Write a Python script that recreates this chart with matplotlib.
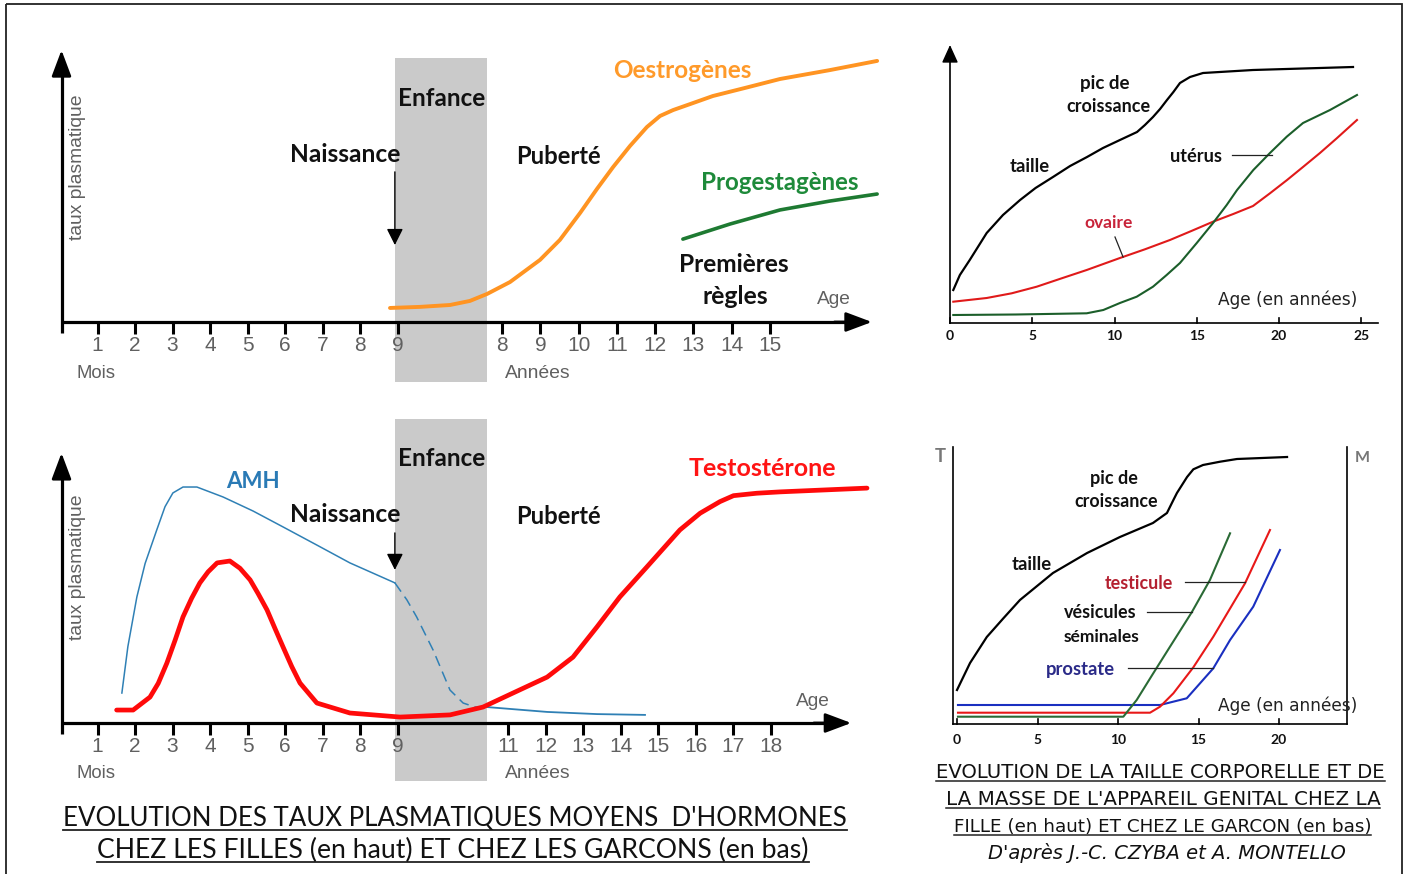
import matplotlib
matplotlib.use('Agg')
import matplotlib.pyplot as plt
from matplotlib import font_manager
from matplotlib.patches import Rectangle

# ---------------- DATA ----------------
# Hormone panels: x = position along the (non-linear) age axis, y = relative plasma level (0-100)
month_ticks = [1, 2, 3, 4, 5, 6, 7, 8, 9]
girl_year_ticks = [8, 9, 10, 11, 12, 13, 14, 15]
boy_year_ticks = [11, 12, 13, 14, 15, 16, 17, 18]

oestro_x = [8.80, 9.60, 10.40, 10.93, 11.39, 12.00, 12.80, 13.33, 13.87, 14.32, 14.75, 15.20,
            15.65, 16.00, 16.35, 16.80, 17.41, 18.27, 19.20, 20.53, 21.79]
oestro_y = [5.2, 5.6, 6.3, 7.8, 10.4, 14.8, 23.0, 30.4, 40.4, 49.3, 57.4, 65.2,
            72.2, 76.3, 78.5, 80.7, 83.7, 86.7, 90.0, 93.3, 96.7]
progest_x = [16.61, 17.87, 19.20, 20.53, 21.79]
progest_y = [30.7, 36.3, 41.5, 44.8, 47.4]

amh_x1 = [1.65, 1.81, 2.05, 2.27, 2.58, 2.80, 3.01, 3.28, 3.65, 4.35, 5.15, 5.95, 6.85, 7.73, 8.93]
amh_y1 = [11.1, 28.3, 46.7, 59.1, 71.5, 80.1, 85.2, 87.4, 87.4, 83.7, 78.5, 72.6, 65.9, 59.3, 51.9]
amh_x2 = [8.93, 9.25, 9.51, 9.95, 10.40, 10.75, 11.07, 11.39]
amh_y2 = [51.9, 45.6, 39.3, 27.0, 12.2, 7.4, 5.9, 5.9]
amh_x3 = [11.39, 12.99, 14.32, 15.60]
amh_y3 = [5.9, 4.1, 3.3, 3.0]

testo_x = [1.51, 1.95, 2.40, 2.62, 2.85, 3.07, 3.28, 3.51, 3.73, 3.95, 4.19, 4.53, 4.80, 5.07,
           5.28, 5.52, 5.73, 5.95, 6.18, 6.40, 6.85, 7.73, 9.07, 10.40, 11.28, 12.08, 12.99,
           13.68, 14.32, 14.93, 15.65, 16.53, 17.07, 17.60, 17.96, 18.58, 19.20, 21.52]
testo_y = [4.8, 4.8, 9.6, 14.7, 22.2, 30.7, 39.3, 46.2, 51.9, 56.0, 59.3, 60.0, 57.3, 53.0,
           48.0, 41.9, 35.1, 28.1, 20.9, 14.8, 7.4, 3.7, 2.2, 3.0, 5.9, 11.1, 17.0,
           24.4, 35.6, 46.7, 57.8, 71.5, 77.7, 82.0, 84.2, 85.1, 85.6, 87.0]

# Growth panels: x = age (years), y = relative size
f_ticks = [0, 5, 10, 15, 20, 25]
taille_f_age = [0.2, 0.6, 1.2, 2.23, 3.22, 4.26, 5.2, 6.26, 7.3, 8.33, 9.3, 10.33, 11.37, 11.85,
                12.34, 12.77, 13.19, 13.58, 13.98, 14.59, 15.38, 18.42, 24.5]
taille_f_h = [33, 48, 63, 90, 108, 123, 135, 146, 157, 166, 175, 183, 191, 198,
              206, 214, 223, 231, 240, 246, 250, 253, 256]
ovaire_age = [0.2, 2.23, 3.75, 5.27, 6.79, 8.31, 10.33, 11.85, 13.37, 14.7, 15.99, 17.22, 18.42,
              19.45, 20.49, 21.48, 22.49, 23.51, 24.74]
ovaire_h = [21.3, 25, 29.7, 36.3, 44.7, 53, 65, 73.7, 83, 92.2, 101.3, 109, 117,
            129.7, 143, 156.3, 170, 184.7, 203]
uterus_age = [0.2, 4.0, 8.31, 9.32, 10.33, 11.35, 12.34, 13.17, 13.98, 15.0, 15.99, 16.82, 17.45,
              18.44, 19.45, 20.47, 21.46, 23.1, 24.74]
uterus_h = [8, 8.5, 9.7, 13, 20, 26.3, 36.3, 48, 60, 80, 100, 118, 133,
            153, 170, 186.3, 200, 213, 228]

m_ticks = [0, 5, 10, 15, 20]
taille_m_age = [0, 0.81, 1.85, 2.88, 3.91, 5.96, 8.08, 10.12, 12.17, 13.04, 13.44, 13.66, 14.29,
                14.68, 15.28, 16.34, 17.39, 20.5]
taille_m_h = [34, 61, 87, 105.7, 124, 151, 171, 187, 201, 211, 224, 231, 247,
              254.7, 259, 262.3, 265, 267]
vesic_age = [0.06, 10.33, 11.16, 12.19, 13.23, 14.58, 15.71, 16.96]
vesic_h = [7.3, 7.3, 24, 50.7, 77.3, 111.7, 144, 190.7]
testic_age = [0.06, 11.99, 12.61, 13.44, 14.68, 15.92, 17.89, 19.44]
testic_h = [11.3, 11.3, 17.3, 30.7, 56.7, 87.3, 140.7, 194]
prost_age = [0.06, 12.61, 14.27, 15.92, 16.96, 18.4, 20.06]
prost_h = [19, 19, 25.7, 55.7, 84, 117.3, 174]

# ---------------- FIGURE ----------------
W, H = 1406, 874
fig = plt.figure(figsize=(W / 100, H / 100), dpi=100)
fig.patch.set_facecolor('white')
R = fig.canvas.get_renderer()

names = {f.name for f in font_manager.fontManager.ttflist}
NARROW = 'Liberation Sans Narrow' if 'Liberation Sans Narrow' in names else 'Liberation Sans'
COMIC = 'Lato' if 'Lato' in names else 'DejaVu Sans'
GRAY = '#606060'


def pix_panel(x0, y0, x1, y1, ox, sx, oy, sy):
    ax = fig.add_axes([x0 / W, 1 - y1 / H, (x1 - x0) / W, (y1 - y0) / H])
    ax.set_xlim((x0 - ox) / sx, (x1 - ox) / sx)
    ax.set_ylim((oy - y1) / sy, (oy - y0) / sy)
    ax.axis('off')
    return ax


def arrow(ax, p0, p1, lw, hl, hw, ms=20, color='k'):
    ax.annotate('', xy=p1, xytext=p0,
                arrowprops=dict(arrowstyle='-|>,head_length=%g,head_width=%g' % (hl, hw),
                                color=color, lw=lw, mutation_scale=ms, shrinkA=0, shrinkB=0))


def hormone_axes(ax, year_ticks, year_pos, ytop, xend):
    ax.plot([0.04, 0.04], [-4, ytop - 3], color='k', lw=2.3, solid_capstyle='butt')
    arrow(ax, (0.04, ytop - 8), (0.04, ytop), 2.0, 0.8, 0.3)
    ax.plot([0.04, xend - 0.3], [0, 0], color='k', lw=2.3, solid_capstyle='butt')
    arrow(ax, (xend - 1, 0), (xend, 0), 2.0, 0.8, 0.3)
    for m in month_ticks:
        ax.plot([m, m], [0, -4.4], color='k', lw=2.2, solid_capstyle='butt')
        ax.text(m, -8.6, str(m), ha='center', va='center', fontsize=15, color=GRAY, family=NARROW)
    for yv in year_ticks:
        p = year_pos(yv)
        ax.plot([p, p], [0, -4.4], color='k', lw=2.2, solid_capstyle='butt')
        ax.text(p, -8.6, str(yv), ha='center', va='center', fontsize=15, color=GRAY, family=NARROW)


# ---- top-left: girls hormones ----
ax1 = pix_panel(40, 30, 900, 395, 60, 37.5, 322, 2.7)
ax1.add_patch(Rectangle((8.93, -22.2), 2.46, 120.0, color='#cacaca', lw=0, zorder=0))
hormone_axes(ax1, girl_year_ticks, lambda y: 3.63 + 1.02 * y, 100.7, 21.65)
ax1.plot(oestro_x, oestro_y, color='#ff9422', lw=2.8, solid_capstyle='round', solid_joinstyle='round', zorder=3)
ax1.plot(progest_x, progest_y, color='#1e7a32', lw=2.6, solid_capstyle='round', zorder=3)
arrow(ax1, (8.93, 55.6), (8.93, 28.5), 1.0, 0.5, 0.25)

# ---- bottom-left: boys hormones ----
ax2 = pix_panel(40, 410, 900, 795, 60, 37.5, 723, 2.7)
ax2.add_patch(Rectangle((8.93, -21.5), 2.46, 134.0, color='#cacaca', lw=0, zorder=0))
hormone_axes(ax2, boy_year_ticks, lambda y: 0.95 + y, 100.0, 21.1)
ax2.plot(amh_x1, amh_y1, color='#2f80b5', lw=1.1, zorder=3)
ax2.plot(amh_x2, amh_y2, color='#2f80b5', lw=1.1, ls=(0, (7, 4)), zorder=3)
ax2.plot(amh_x3, amh_y3, color='#2f80b5', lw=1.3, zorder=3)
ax2.plot(testo_x, testo_y, color='#ff0a0a', lw=3.4, solid_capstyle='round', solid_joinstyle='round', zorder=4)
arrow(ax2, (8.93, 70.4), (8.93, 56.7), 1.0, 0.5, 0.25)

# ---- top-right: girl growth ----
ax3 = pix_panel(925, 30, 1400, 360, 950, 16.45, 323, 1.0)
ax3.plot([0, 0], [0, 270], color='k', lw=1.2)
arrow(ax3, (0, 266), (0, 278), 1.0, 0.55, 0.25)
ax3.plot([0, 26.0], [0, 0], color='k', lw=1.2)
for t in f_ticks:
    ax3.plot([t, t], [0, 5], color='k', lw=1.2)
    ax3.text(t, -13, str(t), ha='center', va='center', fontsize=10, fontweight='bold', family=COMIC, color='#111111')
ax3.plot(taille_f_age, taille_f_h, color='k', lw=1.6, solid_joinstyle='round')
ax3.plot(ovaire_age, ovaire_h, color='#e01a1a', lw=1.5, solid_joinstyle='round')
ax3.plot(uterus_age, uterus_h, color='#1b5e2a', lw=1.5, solid_joinstyle='round')
ax3.plot([17.14, 19.57], [168, 168], color='#222222', lw=0.9)
ax3.plot([10.03, 10.52], [86, 66], color='#222222', lw=0.9)

# ---- bottom-right: boy growth ----
ax4 = pix_panel(925, 430, 1400, 760, 957, 16.1, 724, 1.0)
ax4.plot([-0.25, -0.25], [0, 277], color='k', lw=1.2)
ax4.plot([24.22, 24.22], [0, 277], color='k', lw=1.2)
ax4.plot([-0.25, 24.22], [0, 0], color='k', lw=1.2)
for t in m_ticks:
    ax4.plot([t, t], [0, 5], color='k', lw=1.2)
    ax4.text(t, -16, str(t), ha='center', va='center', fontsize=10, fontweight='bold', family=COMIC, color='#111111')
ax4.plot(taille_m_age, taille_m_h, color='k', lw=1.6, solid_joinstyle='round')
ax4.plot(prost_age, prost_h, color='#1a2fc0', lw=1.5, solid_joinstyle='round')
ax4.plot(testic_age, testic_h, color='#e81818', lw=1.5, solid_joinstyle='round')
ax4.plot(vesic_age, vesic_h, color='#2a6a35', lw=1.5, solid_joinstyle='round')
ax4.plot([14.16, 17.89], [142, 142], color='#222222', lw=0.9)
ax4.plot([11.8, 14.6], [112, 112], color='#222222', lw=0.9)
ax4.plot([10.62, 15.9], [56, 56], color='#222222', lw=0.9)

# ---------------- OVERLAY (pixel coordinates) ----------------
ov = fig.add_axes([0, 0, 1, 1])
ov.set_xlim(0, W)
ov.set_ylim(H, 0)
ov.axis('off')
ov.add_patch(Rectangle((6, 4), 1396, 900, fill=False, ec='#222222', lw=1.3))


def fit(x, y, s, w, ha='center', va='center_baseline', rot=0, **kw):
    t = ov.text(x, y, s, fontsize=20, ha=ha, va=va, **kw)
    bw = t.get_window_extent(renderer=R).width
    t.set_fontsize(20 * w / bw)
    if rot:
        t.set_rotation(rot)
    return t


def underline(t, y, lw=1.3):
    bb = t.get_window_extent(renderer=R)
    ov.plot([bb.x0, bb.x1], [y, y], color='#222222', lw=lw)


B = dict(family=COMIC, fontweight='bold')
# top-left labels
fit(441.5, 96, 'Enfance', 87, color='#111111', **B)
fit(345, 152, 'Naissance', 110, color='#111111', **B)
fit(558.5, 154, 'Puberté', 85, color='#111111', **B)
fit(682, 68, 'Oestrogènes', 138, color='#ff9a2a', **B)
fit(780, 181, 'Progestagènes', 158, color='#1e8a3a', **B)
fit(734, 263, 'Premières', 110, color='#111111', **B)
fit(735, 294, 'règles', 66, color='#111111', **B)
fit(834, 298, 'Age', 34, color=GRAY, family=NARROW)
fit(96.5, 372, 'Mois', 39, color=GRAY, family=NARROW)
fit(537.5, 372, 'Années', 65, color=GRAY, family=NARROW)
fit(78, 167, 'taux plasmatique', 145, rot=90, va='center', color=GRAY, family=NARROW)
# bottom-left labels
fit(441.5, 457, 'Enfance', 87, color='#111111', **B)
fit(345, 513, 'Naissance', 110, color='#111111', **B)
fit(558.5, 515, 'Puberté', 85, color='#111111', **B)
fit(762, 466, 'Testostérone', 148, color='#ff1414', **B)
fit(253, 480, 'AMH', 54, color='#2a7ab5', **B)
fit(813, 699, 'Age', 34, color=GRAY, family=NARROW)
fit(96.5, 772, 'Mois', 39, color=GRAY, family=NARROW)
fit(537.5, 772, 'Années', 65, color=GRAY, family=NARROW)
fit(78, 567, 'taux plasmatique', 145, rot=90, va='center', color=GRAY, family=NARROW)
# top-right labels
fit(1105, 82, 'pic de', 50, color='#111111', **B)
fit(1108, 105, 'croissance', 84, color='#111111', **B)
fit(1030, 165, 'taille', 40, color='#111111', **B)
fit(1196, 155, 'utérus', 52, color='#111111', **B)
fit(1109, 222, 'ovaire', 48, color='#c8243a', **B)
fit(1288, 298, 'Age (en années)', 140, color='#222222', family='DejaVu Sans')
# bottom-right labels
fit(940, 455, 'T', 11, color='#777777', **B)
fit(1362, 456, 'M', 15, color='#777777', **B)
fit(1114, 477, 'pic de', 48, color='#111111', **B)
fit(1116.5, 500, 'croissance', 83, color='#111111', **B)
fit(1032, 563, 'taille', 40, color='#111111', **B)
fit(1139, 582, 'testicule', 68, color='#b42030', **B)
fit(1100, 611, 'vésicules', 72, color='#111111', **B)
fit(1102, 635, 'séminales', 76, color='#111111', **B)
fit(1080.5, 668, 'prostate', 69, color='#2a2a88', **B)
fit(1288, 704, 'Age (en années)', 140, color='#222222', family='DejaVu Sans')

# captions
c1 = fit(455, 826, "EVOLUTION DES TAUX PLASMATIQUES MOYENS  D'HORMONES", 780, va='baseline',
         color='#111111', family=COMIC)
underline(c1, 829.5)
c2 = fit(453, 858, "CHEZ LES FILLES (en haut) ET CHEZ LES GARCONS (en bas)", 710, va='baseline',
         color='#111111', family=COMIC)
underline(c2, 861.5)
r1 = fit(1160.5, 778, "EVOLUTION DE LA TAILLE CORPORELLE ET DE", 449, va='baseline',
         color='#111111', family='DejaVu Sans')
underline(r1, 781, lw=1.1)
r2 = fit(1163, 805, "LA MASSE DE L'APPAREIL GENITAL CHEZ LA", 434, va='baseline',
         color='#111111', family='DejaVu Sans')
underline(r2, 808, lw=1.1)
r3 = fit(1162.5, 832, "FILLE (en haut) ET CHEZ LE GARCON (en bas)", 419, va='baseline',
         color='#111111', family='DejaVu Sans')
underline(r3, 835, lw=1.1)
fit(1166.5, 859, "D'après J.-C. CZYBA et A. MONTELLO", 357, va='baseline',
    color='#111111', family='DejaVu Sans', style='italic')

fig.savefig('out.png', dpi=100)
